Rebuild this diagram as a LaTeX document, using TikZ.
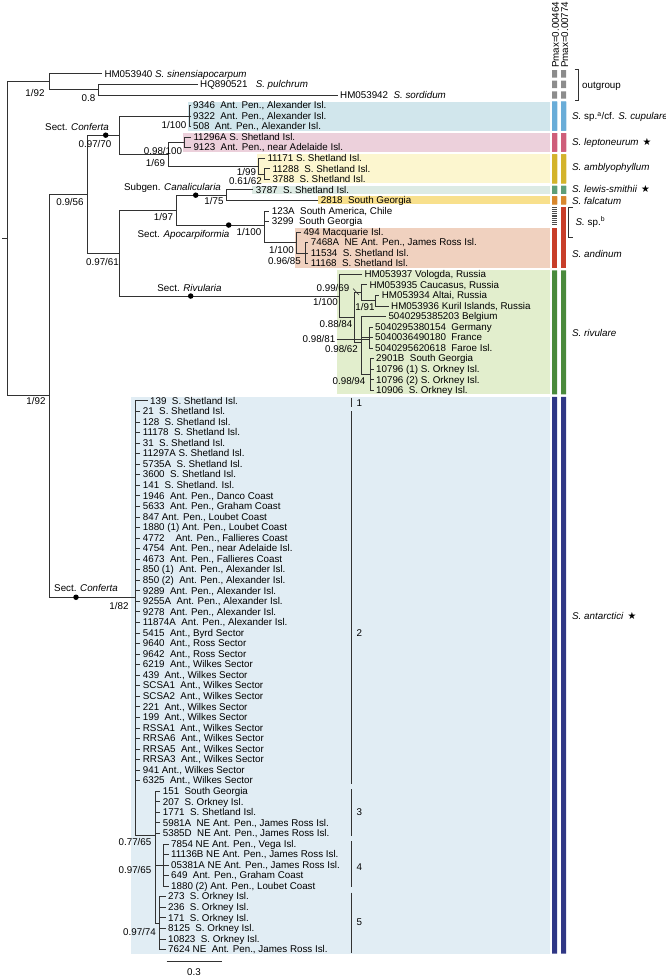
\documentclass[tikz,border=0pt]{standalone}
\usepackage{fontspec}
\setmainfont{Liberation Sans}
\newfontfamily\starfont{DejaVu Sans}
\usetikzlibrary{positioning}

\definecolor{linegray}{RGB}{50,50,50}
\definecolor{cupband}{RGB}{209,230,236}
\definecolor{cupbar}{RGB}{106,173,216}
\definecolor{lepband}{RGB}{236,208,219}
\definecolor{lepbar}{RGB}{206,94,122}
\definecolor{ambband}{RGB}{252,246,207}
\definecolor{ambbar}{RGB}{211,179,44}
\definecolor{lewband}{RGB}{221,235,228}
\definecolor{lewbar}{RGB}{94,158,120}
\definecolor{falband}{RGB}{248,224,140}
\definecolor{falbar}{RGB}{216,135,45}
\definecolor{andband}{RGB}{240,209,191}
\definecolor{andbar}{RGB}{200,62,42}
\definecolor{rivband}{RGB}{226,238,205}
\definecolor{rivbar}{RGB}{74,138,60}
\definecolor{antband}{RGB}{225,237,244}
\definecolor{antbar}{RGB}{48,55,133}
\definecolor{ogbar}{RGB}{140,140,140}

\newcommand{\treefont}{\fontsize{9.8}{11}\selectfont}
\newcommand{\sstar}{\hspace{4pt}{\starfont ★}}
% the two Pmax columns: colour, top row, bottom row
\newcommand{\pbars}[3]{\fill[#1] (552,#2) rectangle (557,#3) (561,#2) rectangle (566,#3);}

\begin{document}
\begin{tikzpicture}[x=1pt, y=-10.55pt, font=\treefont,
    tip/.style={anchor=west, inner xsep=2.5pt, inner ysep=0pt, text height=7pt, text depth=0.6pt},
    sup/.style={inner sep=0pt},
    clade/.style={anchor=west, inner sep=0pt},
    branch/.style={line width=0.85pt, draw=linegray},
    dot/.style={circle, fill=black, inner sep=0pt, minimum size=5.5pt},
    grp/.style={line width=0.85pt, draw=linegray}]
  \useasboundingbox (0,-10) rectangle (666,82.891);
  % \draw [help lines] grid(666,80);

  % coloured bands behind the tips
  \fill[cupband] (188,-0.379) rectangle (550,2.379);
  \fill[lepband] (182.5,2.621) rectangle (550,4.379);
  \fill[ambband] (257,4.621) rectangle (550,7.379);
  \fill[lewband] (252,7.621) rectangle (550,8.379);
  \fill[falband] (318,8.621) rectangle (550,9.379);
  \fill[andband] (295,11.621) rectangle (550,15.379);
  \fill[rivband] (336.5,15.621) rectangle (550,27.379);
  \fill[antband] (131,27.621) rectangle (550,80.379);

  % Pmax columns
  \node[sup, rotate=90, anchor=west] (pm1) at (555.5,-3.55) {Pmax=0.00464};
  \node[sup, rotate=90, anchor=west] (pm2) at (564.7,-3.55) {Pmax=0.00774};
  \foreach \r in {-3,-2,-1}
    \pbars{ogbar}{\r-0.35}{\r+0.35}
  \pbars{cupbar}{-0.379}{2.379}
  \pbars{lepbar}{2.621}{4.379}
  \pbars{ambbar}{4.621}{7.379}
  \pbars{lewbar}{7.621}{8.379}
  \pbars{falbar}{8.621}{9.379}
  \foreach \k in {0,...,9}
    \fill[black!70] (552,{9.64+0.175*\k}) rectangle (557,{9.64+0.175*\k+0.09});
  \fill[andbar] (552,11.621) rectangle (557,15.379);
  \fill[andbar] (561,9.621) rectangle (566,15.379);
  \pbars{rivbar}{15.621}{27.379}
  \pbars{antbar}{27.621}{80.379}

  % species names
  \draw[grp] (574.5,-3.38) -- (578.3,-3.38) -- (578.3,-0.52) -- (574.5,-0.52);
  \node[clade] (ogrp) at (582,-1.8) {outgroup};
  \node[clade] (scup) at (572,1.1) {\textit{S.} sp.\textsuperscript{a}/cf. \textit{S. cupulare}};
  \node[clade] (slep) at (572,3.55) {\textit{S. leptoneurum}\sstar};
  \node[clade] (samb) at (572,5.95) {\textit{S. amblyophyllum}};
  \node[clade] (slew) at (572,7.95) {\textit{S. lewis-smithii}\sstar};
  \node[clade] (sfal) at (572,9.05) {\textit{S. falcatum}};
  \draw[grp] (572.7,9.65) -- (568.3,9.65) -- (568.3,12.49) -- (572.7,12.49);
  \node[clade] (sspb) at (575.5,11.07) {\textit{S.} sp.\textsuperscript{b}};
  \node[clade] (sand) at (572,14.08) {\textit{S. andinum}};
  \node[clade] (sriv) at (572,21.6) {\textit{S. rivulare}};
  \node[clade] (sant) at (572,48.4) {\textit{S. antarctici}\sstar};

  % outgroup
  \node[tip] (sin) at (101.8,-3) {HM053940 \textit{S. sinensiapocarpum}};
  \node[tip] (pul) at (197.5,-2) {HQ890521\ \ \ \textit{S. pulchrum}};
  \node[tip] (sor) at (337.5,-1) {HM053942\ \ \textit{S. sordidum}};
  % cupulare
  \node[tip] (c9346) at (190.5,0) {9346~ Ant. Pen., Alexander Isl.};
  \node[tip] (c9322) at (190.5,1) {9322~ Ant. Pen., Alexander Isl.};
  \node[tip] (c508) at (190.5,2) {508~ Ant. Pen., Alexander Isl.};
  % leptoneurum
  \node[tip] (l11296) at (190.8,3) {11296A S. Shetland Isl.};
  \node[tip] (l9123) at (190.8,4) {9123~ Ant. Pen., near Adelaide Isl.};
  % amblyophyllum
  \node[tip] (m11171) at (264.8,5) {11171 S. Shetland Isl.};
  \node[tip] (m11288) at (269.8,6) {11288~ S. Shetland Isl.};
  \node[tip] (m3788) at (269.8,7) {3788~ S. Shetland Isl.};
  % lewis-smithii, falcatum
  \node[tip] (w3787) at (253.2,8) {3787~ S. Shetland Isl.};
  \node[tip] (f2818) at (318.2,9) {2818~ South Georgia};
  % sp. b, andinum
  \node[tip] (s123) at (269.2,10) {123A~ South America, Chile};
  \node[tip] (s3299) at (269.2,11) {3299~ South Georgia};
  \node[tip] (n494) at (300.8,12) {494 Macquarie Isl.};
  \node[tip] (n7468) at (308.2,13) {7468A~ NE Ant. Pen., James Ross Isl.};
  \node[tip] (n11534) at (308.2,14) {11534~ S. Shetland Isl.};
  \node[tip] (n11168) at (308.2,15) {11168~ S. Shetland Isl.};
  % rivulare
  \node[tip] (r1) at (361.8,16) {HM053937 Vologda, Russia};
  \node[tip] (r2) at (366.8,17) {HM053935 Caucasus, Russia};
  \node[tip] (r3) at (379.2,18) {HM053934 Altai, Russia};
  \node[tip] (r4) at (388.5,19) {HM053936 Kuril Islands, Russia};
  \node[tip] (r5) at (385.8,20) {5040295385203 Belgium};
  \node[tip] (r6) at (372.5,21) {5040295380154~ Germany};
  \node[tip] (r7) at (372.5,22) {5040036490180~ France};
  \node[tip] (r8) at (372.5,23) {5040295620618~ Faroe Isl.};
  \node[tip] (r9) at (373.5,24) {2901B~ South Georgia};
  \node[tip] (r10) at (373.5,25) {10796 (1) S. Orkney Isl.};
  \node[tip] (r11) at (373.5,26) {10796 (2) S. Orkney Isl.};
  \node[tip] (r12) at (373.5,27) {10906~ S. Orkney Isl.};
  % antarctici
  \node[tip] (a1) at (147.5,28) {139~ S. Shetland Isl.};
  \node[tip] (a2) at (140.2,29) {21~ S. Shetland Isl.};
  \node[tip] (a3) at (140.2,30) {128~ S. Shetland Isl.};
  \node[tip] (a4) at (140.2,31) {11178~ S. Shetland Isl.};
  \node[tip] (a5) at (140.2,32) {31~ S. Shetland Isl.};
  \node[tip] (a6) at (140.2,33) {11297A S. Shetland Isl.};
  \node[tip] (a7) at (140.2,34) {5735A~ S. Shetland Isl.};
  \node[tip] (a8) at (140.2,35) {3600~ S. Shetland Isl.};
  \node[tip] (a9) at (140.2,36) {141~ S. Shetland. Isl.};
  \node[tip] (a10) at (140.2,37) {1946~ Ant. Pen., Danco Coast};
  \node[tip] (a11) at (140.2,38) {5633~ Ant. Pen., Graham Coast};
  \node[tip] (a12) at (140.2,39) {847 Ant. Pen., Loubet Coast};
  \node[tip] (a13) at (140.2,40) {1880 (1) Ant. Pen., Loubet Coast};
  \node[tip] (a14) at (140.2,41) {4772~ ~ Ant. Pen., Fallieres Coast};
  \node[tip] (a15) at (140.2,42) {4754~ Ant. Pen., near Adelaide Isl.};
  \node[tip] (a16) at (140.2,43) {4673~ Ant. Pen., Fallieres Coast};
  \node[tip] (a17) at (140.2,44) {850 (1)~ Ant. Pen., Alexander Isl.};
  \node[tip] (a18) at (140.2,45) {850 (2)~ Ant. Pen., Alexander Isl.};
  \node[tip] (a19) at (140.2,46) {9289~ Ant. Pen., Alexander Isl.};
  \node[tip] (a20) at (140.2,47) {9255A~ Ant. Pen., Alexander Isl.};
  \node[tip] (a21) at (140.2,48) {9278~ Ant. Pen., Alexander Isl.};
  \node[tip] (a22) at (140.2,49) {11874A~ Ant. Pen., Alexander Isl.};
  \node[tip] (a23) at (140.2,50) {5415~ Ant., Byrd Sector};
  \node[tip] (a24) at (140.2,51) {9640~ Ant., Ross Sector};
  \node[tip] (a25) at (140.2,52) {9642~ Ant., Ross Sector};
  \node[tip] (a26) at (140.2,53) {6219~ Ant., Wilkes Sector};
  \node[tip] (a27) at (140.2,54) {439~ Ant., Wilkes Sector};
  \node[tip] (a28) at (140.2,55) {SCSA1~ Ant., Wilkes Sector};
  \node[tip] (a29) at (140.2,56) {SCSA2~ Ant., Wilkes Sector};
  \node[tip] (a30) at (140.2,57) {221~ Ant., Wilkes Sector};
  \node[tip] (a31) at (140.2,58) {199~ Ant., Wilkes Sector};
  \node[tip] (a32) at (140.2,59) {RSSA1~ Ant., Wilkes Sector};
  \node[tip] (a33) at (140.2,60) {RRSA6~ Ant., Wilkes Sector};
  \node[tip] (a34) at (140.2,61) {RRSA5~ Ant., Wilkes Sector};
  \node[tip] (a35) at (140.2,62) {RRSA3~ Ant., Wilkes Sector};
  \node[tip] (a36) at (140.2,63) {941 Ant., Wilkes Sector};
  \node[tip] (a37) at (140.2,64) {6325~ Ant., Wilkes Sector};
  \node[tip] (a38) at (160.2,65) {151~ South Georgia};
  \node[tip] (a39) at (160.2,66) {207~ S. Orkney Isl.};
  \node[tip] (a40) at (160.2,67) {1771~ S. Shetland Isl.};
  \node[tip] (a41) at (160.2,68) {5981A~ NE Ant. Pen., James Ross Isl.};
  \node[tip] (a42) at (160.2,69) {5385D~ NE Ant. Pen., James Ross Isl.};
  \node[tip] (a43) at (168.5,70) {7854 NE Ant. Pen., Vega Isl.};
  \node[tip] (a44) at (168.5,71) {11136B NE Ant. Pen., James Ross Isl.};
  \node[tip] (a45) at (168.5,72) {05381A NE Ant. Pen., James Ross Isl.};
  \node[tip] (a46) at (168.5,73) {649~ Ant. Pen., Graham Coast};
  \node[tip] (a47) at (168.5,74) {1880 (2) Ant. Pen., Loubet Coast};
  \node[tip] (a48) at (165.5,75) {273~ S. Orkney Isl.};
  \node[tip] (a49) at (165.5,76) {236~ S. Orkney Isl.};
  \node[tip] (a50) at (165.5,77) {171~ S. Orkney Isl.};
  \node[tip] (a51) at (165.5,78) {8125~ S. Orkney Isl.};
  \node[tip] (a52) at (165.5,79) {10823~ S. Orkney Isl.};
  \node[tip] (a53) at (165.5,80) {7624 NE~ Ant. Pen., James Ross Isl.};

  % internal nodes (y = mean of the children)
  \coordinate (rootstem) at (2,12.628);
  \coordinate (root) at (7.3,12.628);
  \coordinate (og1) at (49,-2.25);
  \coordinate (og2) at (98.3,-1.5);
  \coordinate (ingr) at (49,27.506);
  \coordinate (n056) at (87.3,8.401);
  \coordinate (conf) at (119,2.8125);
  \coordinate (cup) at (189,1);
  \coordinate (lepamb) at (168.3,4.625);
  \coordinate (lep) at (184.3,3.5);
  \coordinate (amb) at (258.3,5.75);
  \coordinate (amb2) at (264.3,6.5);
  \coordinate (n061) at (119.5,13.99);
  \coordinate (c97) at (176,9.917);
  \coordinate (can) at (226,8.5);
  \coordinate (apo) at (264.3,11.333);
  \coordinate (and1) at (296.5,13);
  \coordinate (and2) at (305,14);
  \coordinate (riv0) at (339.3,18.0625);
  \coordinate (riv1) at (354,20.125);
  \coordinate (riv2) at (361,17.75);
  \coordinate (riv4) at (375,18.5);
  \coordinate (riv3) at (361,22.5);
  \coordinate (riv5) at (369.3,22);
  \coordinate (riv6) at (370.5,25.5);
  \coordinate (pt) at (135,46.611);
  \coordinate (na) at (155,69.214);
  \coordinate (g4) at (163.3,72);
  \coordinate (g5) at (159.3,77.5);

  % branches
  \draw[branch] (rootstem) -- (root) (root) |- (og1) (root) |- (ingr);
  \draw[branch] (og1) |- (sin.west) (og1) |- (og2) (og2) |- (pul.west) (og2) |- (sor.west);
  \draw[branch] (ingr) |- (n056) (ingr) |- (pt);
  \draw[branch] (n056) |- (conf) (n056) |- (n061);
  \draw[branch] (conf) |- (cup) (conf) |- (lepamb);
  \draw[branch] (cup) |- (c9346.west) (cup) |- (c9322.west) (cup) |- (c508.west);
  \draw[branch] (lepamb) |- (lep) (lepamb) |- (amb);
  \draw[branch] (lep) |- (l11296.west) (lep) |- (l9123.west);
  \draw[branch] (amb) |- (m11171.west) (amb) |- (amb2) (amb2) |- (m11288.west) (amb2) |- (m3788.west);
  \draw[branch] (n061) |- (c97) (n061) |- (riv0);
  \draw[branch] (c97) |- (can) (c97) |- (apo);
  \draw[branch] (can) |- (w3787.west) (can) |- (f2818.west);
  \draw[branch] (apo) |- (s123.west) (apo) |- (s3299.west) (apo) |- (and1);
  \draw[branch] (and1) |- (n494.west) (and1) |- (and2);
  \draw[branch] (and2) |- (n7468.west) (and2) |- (n11534.west) (and2) |- (n11168.west);
  \draw[branch] (riv0) |- (r1.west) (riv0) |- (riv1);
  \draw[branch] (riv1) |- (riv2) (riv1) |- (riv3);
  \draw[branch] (riv2) |- (r2.west) (riv2) |- (riv4);
  \draw[branch] (riv4) |- (r3.west) (riv4) |- (r4.west);
  \draw[branch] (riv3) |- (r5.west) (riv3) |- (riv5) (riv3) |- (riv6);
  \draw[branch] (riv5) |- (r6.west) (riv5) |- (r7.west) (riv5) |- (r8.west);
  \draw[branch] (riv6) |- (r9.west) (riv6) |- (r10.west) (riv6) |- (r11.west) (riv6) |- (r12.west);
  \draw[branch] (pt) |- (na) (na) |- (g4) (na) |- (g5);
  \foreach \i in {1,...,37} \draw[branch] (pt) |- (a\i.west);
  \foreach \i in {38,...,42} \draw[branch] (na) |- (a\i.west);
  \foreach \i in {43,...,47} \draw[branch] (g4) |- (a\i.west);
  \foreach \i in {48,...,53} \draw[branch] (g5) |- (a\i.west);

  % sections
  \node[dot] (dconf) at (105.7,2.8125) {};
  \node[dot] (dcan) at (195.7,8.5) {};
  \node[dot] (dapo) at (228.7,11.333) {};
  \node[dot] (driv) at (190.7,18.0625) {};
  \node[dot] (dant) at (76,46.611) {};
  \node[sup] (hconf) at (77,2.066) {Sect. \textit{Conferta}};
  \node[sup] (hcan) at (172.5,7.791) {Subgen. \textit{Canalicularia}};
  \node[sup] (hapo) at (183.5,12.275) {Sect. \textit{Apocarpiformia}};
  \node[sup] (hriv) at (189.5,17.27) {Sect. \textit{Rivularia}};
  \node[sup] (hant) at (86,45.763) {Sect. \textit{Conferta}};

  % support values
  \node[sup] (b1) at (35,-1.213) {1/92};
  \node[sup] (b2) at (88.5,-0.739) {0.8};
  \node[sup] (b3) at (36,28.05) {1/92};
  \node[sup] (b4) at (95,3.649) {0.97/70};
  \node[sup] (b5) at (70,9.118) {0.9/56};
  \node[sup] (b6) at (174,1.848) {1/100};
  \node[sup] (b7) at (163,4.284) {0.98/100};
  \node[sup] (b8) at (155.5,5.422) {1/69};
  \node[sup] (b9) at (246.5,6.332) {1/99};
  \node[sup] (b10) at (245.5,7.128) {0.61/62};
  \node[sup] (b11) at (214,9.024) {1/75};
  \node[sup] (b12) at (163.5,10.597) {1/97};
  \node[sup] (b13) at (249,12.019) {1/100};
  \node[sup] (b14) at (281.5,13.697) {1/100};
  \node[sup] (b15) at (284.5,14.711) {0.96/85};
  \node[sup] (b16) at (102.5,14.863) {0.97/61};
  \node[sup] (b17) at (333,17.3) {0.99/69};
  \node[sup] (b18) at (325.5,18.654) {1/100};
  \node[sup] (b19) at (365,19.071) {1/91};
  \node[sup] (b20) at (336,20.711) {0.88/84};
  \node[sup] (b21) at (319,22.16) {0.98/81};
  \node[sup] (b22) at (341.5,23.1) {0.98/62};
  \node[sup] (b23) at (349,26.08) {0.98/94};
  \node[sup] (b24) at (119,47.441) {1/82};
  \node[sup] (b25) at (135,69.782) {0.77/65};
  \node[sup] (b26) at (135,72.464) {0.97/65};
  \node[sup] (b27) at (139.5,78.313) {0.97/74};
  \coordinate (lead1) at (353,17.35);
  \coordinate (lead2) at (359,17.96);
  \draw[branch, line width=0.6pt] (lead1) -- (lead2);
  \draw[branch, line width=0.6pt] ([xshift=1pt]b21.east) -- ([xshift=1pt]b21.east -| riv5);

  % antarctici haplotype groups
  \draw[grp] (351.7,27.7) -- (351.7,28.6);
  \draw[grp] (351.7,29.0) -- (351.7,64.3);
  \draw[grp] (351.7,64.8) -- (351.7,69.25);
  \draw[grp] (351.7,69.7) -- (351.7,74.1);
  \draw[grp] (351.7,74.6) -- (351.7,80.3);
  \node[clade] (gn1) at (356.5,28.23) {1};
  \node[clade] (gn2) at (356.5,50.03) {2};
  \node[clade] (gn3) at (356.5,67.0) {3};
  \node[clade] (gn4) at (356.5,72.15) {4};
  \node[clade] (gn5) at (356.5,77.37) {5};

  % scale bar
  \coordinate (sb1) at (166.7,81.16);
  \coordinate (sb2) at (221.7,81.16);
  \draw[branch] (sb1) -- (sb2);
  \node[sup] (sbl) at (194,82.13) {0.3};
\end{tikzpicture}
\end{document}
